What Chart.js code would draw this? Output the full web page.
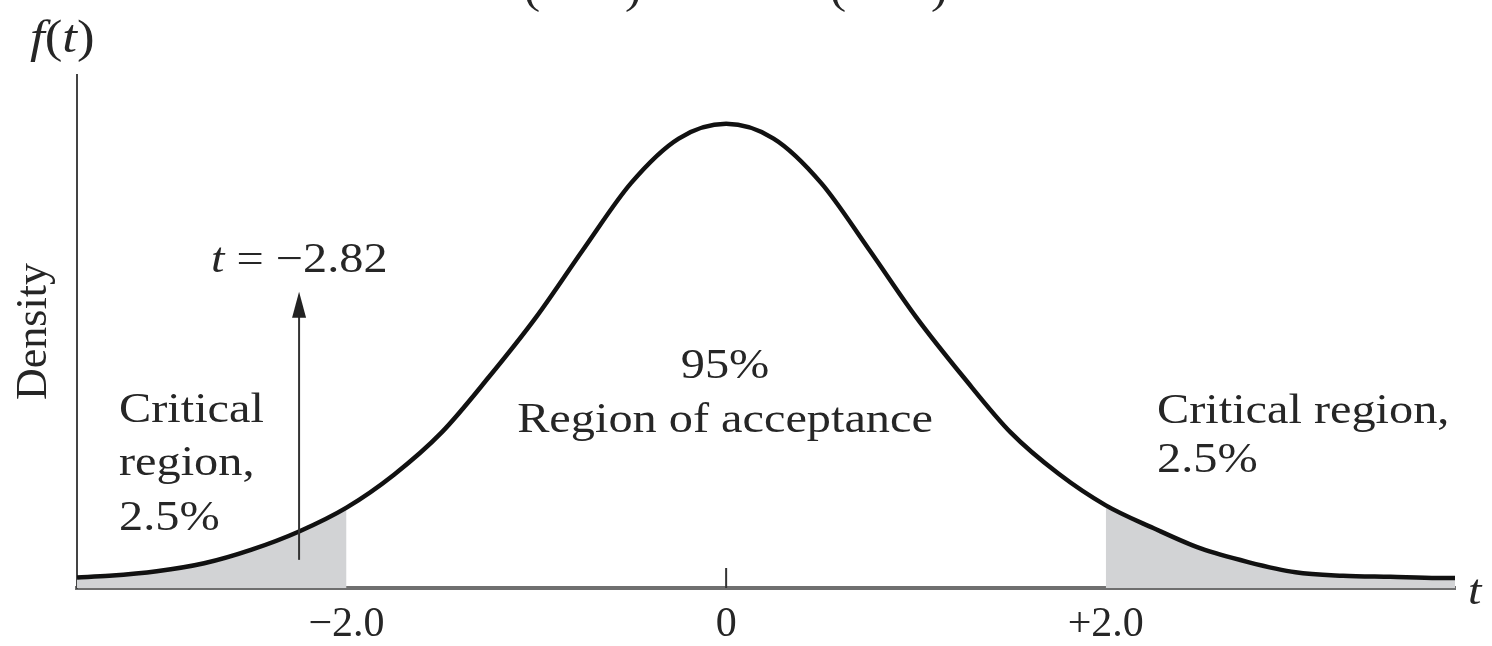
<!DOCTYPE html>
<html>
<head>
<meta charset="utf-8">
<script src="https://cdn.jsdelivr.net/npm/chart.js@4"></script>
<style>
  html, body { margin: 0; padding: 0; background: #fff; }
  #wrap { width: 1492px; height: 646px; position: relative; }
</style>
</head>
<body>
<div id="wrap"><canvas id="grafico"></canvas></div>
<script>
// values
const tValues = [-3.42, -3.25, -3.0, -2.75, -2.5, -2.25, -2.0, -1.75, -1.5, -1.25, -1.0, -0.75, -0.5, -0.25,
  0, 0.25, 0.5, 0.75, 1.0, 1.25, 1.5, 1.75, 2.0, 2.25, 2.5, 2.75, 3.0, 3.25, 3.5, 3.75, 3.84];
const density = [0.0005, 0.002, 0.006, 0.013, 0.025, 0.041, 0.062, 0.091, 0.128, 0.177, 0.230, 0.290, 0.348, 0.387,
  0.400, 0.387, 0.348, 0.290, 0.230, 0.177, 0.128, 0.092, 0.064, 0.044, 0.026, 0.014, 0.005, 0.002, 0.001, 0.000, 0.000];
const tickValues = [-2, 0, 2];
const tickLabels = ["\u22122.0", "0", "+2.0"];
const critLow = -2.0;
const critHigh = 2.0;
const observedT = -2.25;   // where the arrow is drawn
const arrowFrom = 0.016;
const arrowTo = 0.252;

const X_MIN = -3.42, X_MAX = 3.84;
const Y_MIN = -0.0088, Y_MAX = 0.443;

const pts = tValues.map((t, i) => ({ x: t, y: density[i] }));
const leftTail = pts.filter(p => p.x <= critLow);
const rightTail = pts.filter(p => p.x >= critHigh);

const SERIF = '"Liberation Serif", "DejaVu Serif", serif';
const INK = "#262626";
const SX = 1.15;

function runs(ctx, parts, x, y, size) {
  ctx.save();
  ctx.translate(x, y);
  ctx.scale(SX, 1);
  ctx.fillStyle = INK;
  ctx.textBaseline = "alphabetic";
  let cx = 0;
  parts.forEach(([txt, it]) => {
    ctx.font = (it ? "italic " : "") + size + "px " + SERIF;
    ctx.fillText(txt, cx, 0);
    cx += ctx.measureText(txt).width;
  });
  ctx.restore();
}

function centered(ctx, txt, x, y, size) {
  ctx.save();
  ctx.font = size + "px " + SERIF;
  const w = ctx.measureText(txt).width * SX;
  ctx.restore();
  runs(ctx, [[txt, false]], x - w / 2, y, size);
}

const annotations = {
  id: "annotations",
  afterDatasetsDraw(chart) {
    const { ctx, scales: { x, y }, chartArea } = chart;

    // little tick at zero
    ctx.save();
    ctx.strokeStyle = "#333";
    ctx.lineWidth = 2;
    ctx.beginPath();
    ctx.moveTo(x.getPixelForValue(0), chartArea.bottom - 20);
    ctx.lineTo(x.getPixelForValue(0), chartArea.bottom);
    ctx.stroke();

    // arrow for the observed t
    const ax = x.getPixelForValue(observedT);
    const y0 = y.getPixelForValue(arrowFrom);
    const y1 = y.getPixelForValue(arrowTo);
    ctx.strokeStyle = "#333";
    ctx.lineWidth = 2;
    ctx.beginPath();
    ctx.moveTo(ax, y0);
    ctx.lineTo(ax, y1 + 20);
    ctx.stroke();
    ctx.fillStyle = "#222";
    ctx.beginPath();
    ctx.moveTo(ax, y1);
    ctx.lineTo(ax - 7, y1 + 26);
    ctx.lineTo(ax + 7, y1 + 26);
    ctx.closePath();
    ctx.fill();
    ctx.restore();

    runs(ctx, [["t", true], [" = \u22122.82", false]], 211, 272, 42);
    runs(ctx, [["Critical", false]], 119, 422, 42);
    runs(ctx, [["region,", false]], 119, 475, 42);
    runs(ctx, [["2.5%", false]], 119, 530, 42);
    runs(ctx, [["Critical region,", false]], 1157, 423, 42);
    runs(ctx, [["2.5%", false]], 1157, 472, 42);
    centered(ctx, "95%", 725, 378, 42);
    centered(ctx, "Region of acceptance", 725, 432, 42);
    runs(ctx, [["f", true], ["(", false], ["t", true], [")", false]], 30, 52, 46);
    runs(ctx, [["t", true]], 1468, 604, 42);

    // bits of a formula cut off at the top edge
    runs(ctx, [["(", false]], 524, 3, 42);
    runs(ctx, [[")", false]], 625, 3, 42);
    runs(ctx, [["(", false]], 830, 3, 42);
    runs(ctx, [[")", false]], 931, 3, 42);
  }
};

new Chart(document.getElementById("grafico"), {
  type: "line",
  data: {
    datasets: [
      {
        data: pts,
        borderColor: "#111",
        borderWidth: 4.5,
        pointRadius: 0,
        fill: false,
        cubicInterpolationMode: "monotone",
        order: 0
      },
      {
        data: leftTail,
        borderWidth: 0,
        pointRadius: 0,
        backgroundColor: "#d2d3d5",
        fill: { value: Y_MIN },
        cubicInterpolationMode: "monotone",
        order: 1
      },
      {
        data: rightTail,
        borderWidth: 0,
        pointRadius: 0,
        backgroundColor: "#d2d3d5",
        fill: { value: Y_MIN },
        cubicInterpolationMode: "monotone",
        order: 1
      }
    ]
  },
  options: {
    responsive: true,
    maintainAspectRatio: false,
    animation: false,
    devicePixelRatio: 1,
    layout: { padding: { top: 75, right: 37, left: 0, bottom: 0 } },
    plugins: { legend: { display: false }, tooltip: { enabled: false } },
    scales: {
      x: {
        type: "linear",
        min: X_MIN,
        max: X_MAX,
        grid: { display: false, drawTicks: false },
        border: { display: true, color: "#6f6f6f", width: 4 },
        afterBuildTicks: s => { s.ticks = tickValues.map(v => ({ value: v })); },
        afterFit: s => { s.height = 58; },
        ticks: {
          autoSkip: false,
          maxRotation: 0,
          padding: 12,
          color: INK,
          font: { family: SERIF, size: 42 },
          callback: v => tickLabels[tickValues.indexOf(v)]
        }
      },
      y: {
        min: Y_MIN,
        max: Y_MAX,
        grid: { display: false, drawTicks: false },
        border: { display: true, color: "#444", width: 2 },
        afterFit: s => { s.width = 77; },
        ticks: { display: false },
        title: {
          display: true,
          text: "Density",
          color: INK,
          padding: { top: 8, bottom: 0 },
          font: { family: SERIF, size: 44 }
        }
      }
    }
  },
  plugins: [annotations]
});
</script>
</body>
</html>
